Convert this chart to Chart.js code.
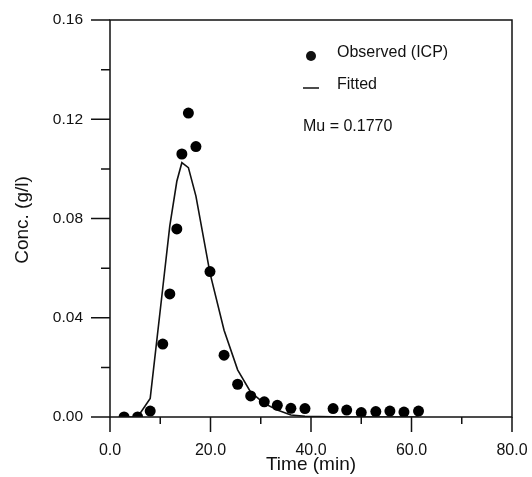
<!DOCTYPE html>
<html>
<head>
<meta charset="utf-8">
<script src="https://cdn.jsdelivr.net/npm/chart.js@4.4.1/dist/chart.umd.min.js"></script>
<style>
  html, body { margin: 0; padding: 0; background: #fff; }
  #wrap { width: 532px; height: 477px; }
</style>
</head>
<body>
<div id="wrap"><canvas id="conc"></canvas></div>
<script>
// observed points (ICP)
const obsTime = [2.8, 5.5, 8.0, 10.5, 11.9, 13.3, 14.3, 15.6, 17.1, 19.9, 22.7, 25.4, 28.0, 30.7, 33.3, 36.0, 38.8, 44.4, 47.1, 50.0, 52.9, 55.7, 58.5, 61.4];
const obsConc = [0.0, 0.0, 0.0024, 0.0294, 0.0496, 0.0758, 0.106, 0.1225, 0.109, 0.0586, 0.0249, 0.0132, 0.0085, 0.0061, 0.0047, 0.0035, 0.0034, 0.0034, 0.0028, 0.0018, 0.0022, 0.0024, 0.0020, 0.0024];

// fitted curve
const fitTime = [2.8, 5.5, 8.0, 10.5, 11.9, 13.3, 14.3, 15.6, 17.1, 19.9, 22.7, 25.4, 28.0, 30.7, 33.3, 36.0, 38.8, 44.4, 47.1, 50.0, 52.9, 55.7, 58.5, 61.4];
const fitConc = [0.0, 0.0, 0.0075, 0.052, 0.077, 0.095, 0.1025, 0.1005, 0.089, 0.058, 0.035, 0.019, 0.010, 0.0055, 0.0028, 0.0008, 0.0003, 0.0001, 0.0, 0.0, 0.0, 0.0, 0.0, 0.0];

const seriesNames = ['Observed (ICP)', 'Fitted'];
const muText = 'Mu = 0.1770';
const xTitle = 'Time (min)';
const yTitle = 'Conc. (g/l)';

const FONT = '"Liberation Sans", Arial, sans-serif';
const INK = '#111';

// ticks, frame, legend and axis titles
const framePlugin = {
  id: 'frame',
  afterDraw(chart) {
    const ctx = chart.ctx;
    const a = chart.chartArea;
    const xs = chart.scales.x, ys = chart.scales.y;
    ctx.save();
    ctx.strokeStyle = INK;
    ctx.lineWidth = 1.5;
    ctx.strokeRect(a.left, a.top, a.right - a.left, a.bottom - a.top);

    ctx.beginPath();
    xs.ticks.forEach(t => {
      const px = xs.getPixelForValue(t.value);
      const major = Math.round(t.value) % 20 === 0;
      ctx.moveTo(px, a.bottom);
      ctx.lineTo(px, a.bottom + (major ? 15 : 7));
    });
    ys.ticks.forEach(t => {
      const py = ys.getPixelForValue(t.value);
      const major = Math.round(t.value * 100) % 4 === 0;
      ctx.moveTo(a.left, py);
      ctx.lineTo(a.left - (major ? 19 : 9), py);
    });
    ctx.stroke();

    // legend
    ctx.fillStyle = INK;
    ctx.font = '16px ' + FONT;
    ctx.textBaseline = 'middle';
    ctx.textAlign = 'left';
    ctx.beginPath();
    ctx.arc(311, 56, 5, 0, Math.PI * 2);
    ctx.fill();
    ctx.fillText(seriesNames[0], 337, 53);
    ctx.beginPath();
    ctx.moveTo(303, 88);
    ctx.lineTo(319, 88);
    ctx.stroke();
    ctx.fillText(seriesNames[1], 337, 85);
    ctx.fillText(muText, 303, 127);

    // axis titles
    ctx.font = '19px ' + FONT;
    ctx.textAlign = 'center';
    ctx.fillText(xTitle, 311, 465);
    ctx.translate(23, 220);
    ctx.rotate(-Math.PI / 2);
    ctx.fillText(yTitle, 0, 0);
    ctx.restore();
  }
};

new Chart(document.getElementById('conc'), {
  type: 'scatter',
  data: {
    datasets: [
      {
        label: seriesNames[1],
        type: 'line',
        data: fitTime.map((t, i) => ({ x: t, y: fitConc[i] })),
        borderColor: INK,
        borderWidth: 1.6,
        pointRadius: 0,
        tension: 0,
        fill: false,
        order: 2
      },
      {
        label: seriesNames[0],
        data: obsTime.map((t, i) => ({ x: t, y: obsConc[i] })),
        backgroundColor: '#000',
        borderWidth: 0,
        pointRadius: 5.5,
        order: 1
      }
    ]
  },
  options: {
    responsive: true,
    maintainAspectRatio: false,
    animation: false,
    layout: { padding: { top: 20, right: 20, left: 0, bottom: 0 } },
    plugins: { legend: { display: false }, tooltip: { enabled: false } },
    scales: {
      x: {
        type: 'linear',
        min: 0, max: 80,
        border: { display: false },
        grid: { display: false, drawTicks: false },
        ticks: {
          stepSize: 10,
          padding: 24,
          maxRotation: 0,
          color: INK,
          font: { family: FONT, size: 16 },
          callback: v => (Math.round(v) % 20 === 0 ? v.toFixed(1) : '')
        },
        afterFit: s => {
          s.height = 60;
          s.paddingLeft = 0;
          s.paddingRight = 0;
        }
      },
      y: {
        min: 0, max: 0.16,
        border: { display: false },
        grid: { display: false, drawTicks: false },
        ticks: {
          stepSize: 0.02,
          padding: 27,
          color: INK,
          font: { family: FONT, size: 15.5 },
          callback: v => (Math.round(v * 100) % 4 === 0 ? v.toFixed(2) : '')
        },
        afterFit: s => {
          s.width = 110;
          s.paddingTop = 0;
          s.paddingBottom = 0;
        }
      }
    }
  },
  plugins: [framePlugin]
});
</script>
</body>
</html>
